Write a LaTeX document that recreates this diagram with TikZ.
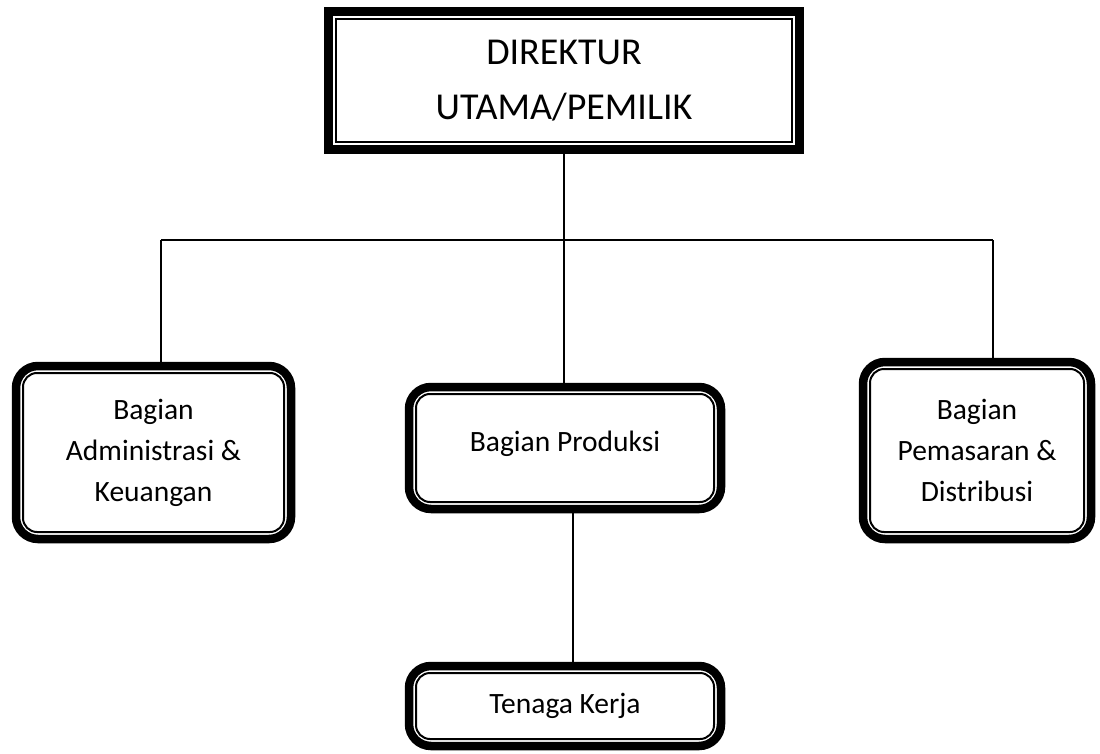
\documentclass[tikz,border=0pt]{standalone}
\usepackage{fontspec}
\setmainfont{Carlito}
\tikzset{
  unitbox/.style={draw=black, line width=8.5pt, rounded corners=22pt, align=center,
    inner sep=0pt, font=\fontsize{29.5}{41}\selectfont,
    path picture={\draw[line width=2pt, rounded corners=14pt]
      ([shift={(7pt,-7pt)}]path picture bounding box.north west) rectangle
      ([shift={(-7pt,7pt)}]path picture bounding box.south east);}},
  headbox/.style={draw=black, line width=9pt, align=center,
    inner sep=0pt, font=\fontsize{38}{55}\selectfont,
    path picture={\draw[line width=2pt]
      ([shift={(7.5pt,-7.5pt)}]path picture bounding box.north west) rectangle
      ([shift={(-7.5pt,7.5pt)}]path picture bounding box.south east);}},
  link/.style={draw=black, line width=1.5pt}
}
\begin{document}
\begin{tikzpicture}[x=1pt,y=-1pt]
\useasboundingbox (0,0) rectangle (1100,754);
\node[headbox, minimum width=471pt, minimum height=138pt] (dir) at (564,80.5)
  {DIREKTUR\\UTAMA/PEMILIK};
\node[unitbox, minimum width=275pt, minimum height=173pt] (adm) at (153.5,452.5)
  {Bagian\\Administrasi \&\\Keuangan};
\node[unitbox, minimum width=312pt, minimum height=122pt] (prod) at (565,448)
  {\raisebox{13pt}{Bagian Produksi}};
\node[unitbox, minimum width=228pt, minimum height=177pt] (pem) at (977,450.5)
  {Bagian\\Pemasaran \&\\Distribusi};
\node[unitbox, minimum width=312pt, minimum height=80pt] (tk) at (565,706)
  {Tenaga Kerja};
\coordinate (hl) at (161,240);
\coordinate (hr) at (993,240);
\draw[link] (dir.south) -- (dir.south |- prod.north);
\draw[link] (hl) -- (hr);
\draw[link] (hl) -- (hl |- adm.north);
\draw[link] (hr) -- (hr |- pem.north);
\draw[link] ([xshift=8pt]prod.south) -- ([xshift=8pt]tk.north);
\end{tikzpicture}
\end{document}
